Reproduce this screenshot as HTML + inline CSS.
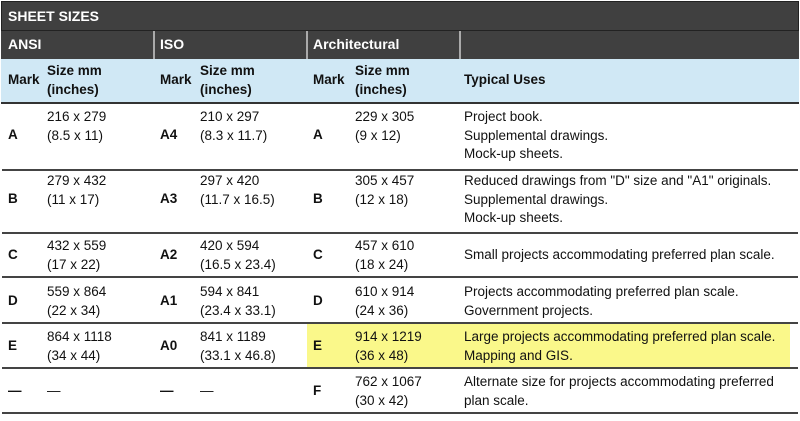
<!DOCTYPE html>
<html><head><style>
body{margin:0;width:800px;height:421px;background:#fff;font-family:"Liberation Sans",Arial,sans-serif;font-size:13.5px;color:#111;position:relative;overflow:hidden}
div{position:absolute}
.t{white-space:nowrap;line-height:18.5px}
.b{font-weight:bold}
.hl{background:#404040;color:#fff;font-weight:bold;font-size:14px}
.ln{left:2px;width:796px;height:2px;background:#444}
</style></head><body>
<div style="left:1px;top:1px;width:798px;height:30px;background:#404040;border:1px solid #222;box-sizing:border-box"></div>
<div class="t hl" style="left:8px;top:7px;background:none">SHEET SIZES</div>
<div style="left:1px;top:31px;width:798px;height:28px;background:#404040"></div>
<div style="left:153px;top:31px;width:2px;height:28px;background:#aaa"></div>
<div style="left:306px;top:31px;width:2px;height:28px;background:#aaa"></div>
<div style="left:459px;top:31px;width:2px;height:28px;background:#aaa"></div>
<div class="t hl" style="left:8px;top:35px;background:none">ANSI</div>
<div class="t hl" style="left:160px;top:35px;background:none">ISO</div>
<div class="t hl" style="left:313px;top:35px;background:none">Architectural</div>
<div style="left:1px;top:59px;width:798px;height:43px;background:#d0e8f5"></div>
<div style="left:1px;top:102px;width:798px;height:2px;background:#333"></div>
<div class="t b" style="left:8px;top:71px">Mark</div>
<div class="t b" style="left:47px;top:62px">Size mm<br>(inches)</div>
<div class="t b" style="left:160px;top:71px">Mark</div>
<div class="t b" style="left:200px;top:62px">Size mm<br>(inches)</div>
<div class="t b" style="left:313px;top:71px">Mark</div>
<div class="t b" style="left:355px;top:62px">Size mm<br>(inches)</div>
<div class="t b" style="left:464px;top:71px">Typical Uses</div>

<div style="left:307px;top:324px;width:483px;height:43px;background:#faf88a"></div>

<div class="ln" style="top:169px"></div>
<div class="ln" style="top:232px"></div>
<div class="ln" style="top:276px"></div>
<div class="ln" style="top:322px"></div>
<div class="ln" style="top:367px"></div>
<div class="ln" style="top:412px"></div>

<!-- A -->
<div class="t b" style="left:8px;top:126px">A</div>
<div class="t" style="left:47px;top:108px">216 x 279<br>(8.5 x 11)</div>
<div class="t b" style="left:160px;top:126px">A4</div>
<div class="t" style="left:200px;top:108px">210 x 297<br>(8.3 x 11.7)</div>
<div class="t b" style="left:313px;top:126px">A</div>
<div class="t" style="left:355px;top:108px">229 x 305<br>(9 x 12)</div>
<div class="t" style="left:464px;top:108px">Project book.<br>Supplemental drawings.<br>Mock-up sheets.</div>
<!-- B -->
<div class="t b" style="left:8px;top:190px">B</div>
<div class="t" style="left:47px;top:172px">279 x 432<br>(11 x 17)</div>
<div class="t b" style="left:160px;top:190px">A3</div>
<div class="t" style="left:200px;top:172px">297 x 420<br>(11.7 x 16.5)</div>
<div class="t b" style="left:313px;top:190px">B</div>
<div class="t" style="left:355px;top:172px">305 x 457<br>(12 x 18)</div>
<div class="t" style="left:464px;top:172px">Reduced drawings from "D" size and "A1" originals.<br>Supplemental drawings.<br>Mock-up sheets.</div>
<!-- C -->
<div class="t b" style="left:8px;top:246px">C</div>
<div class="t" style="left:47px;top:237px">432 x 559<br>(17 x 22)</div>
<div class="t b" style="left:160px;top:246px">A2</div>
<div class="t" style="left:200px;top:237px">420 x 594<br>(16.5 x 23.4)</div>
<div class="t b" style="left:313px;top:246px">C</div>
<div class="t" style="left:355px;top:237px">457 x 610<br>(18 x 24)</div>
<div class="t" style="left:464px;top:246px">Small projects accommodating preferred plan scale.</div>
<!-- D -->
<div class="t b" style="left:8px;top:292px">D</div>
<div class="t" style="left:47px;top:283px">559 x 864<br>(22 x 34)</div>
<div class="t b" style="left:160px;top:292px">A1</div>
<div class="t" style="left:200px;top:283px">594 x 841<br>(23.4 x 33.1)</div>
<div class="t b" style="left:313px;top:292px">D</div>
<div class="t" style="left:355px;top:283px">610 x 914<br>(24 x 36)</div>
<div class="t" style="left:464px;top:283px">Projects accommodating preferred plan scale.<br>Government projects.</div>
<!-- E -->
<div class="t b" style="left:8px;top:337px">E</div>
<div class="t" style="left:47px;top:328px">864 x 1118<br>(34 x 44)</div>
<div class="t b" style="left:160px;top:337px">A0</div>
<div class="t" style="left:200px;top:328px">841 x 1189<br>(33.1 x 46.8)</div>
<div class="t b" style="left:313px;top:337px">E</div>
<div class="t" style="left:355px;top:328px">914 x 1219<br>(36 x 48)</div>
<div class="t" style="left:464px;top:328px">Large projects accommodating preferred plan scale.<br>Mapping and GIS.</div>
<!-- F -->
<div class="t b" style="left:8px;top:382px">—</div>
<div class="t" style="left:47px;top:382px">—</div>
<div class="t b" style="left:160px;top:382px">—</div>
<div class="t" style="left:200px;top:382px">—</div>
<div class="t b" style="left:313px;top:382px">F</div>
<div class="t" style="left:355px;top:373px">762 x 1067<br>(30 x 42)</div>
<div class="t" style="left:464px;top:373px">Alternate size for projects accommodating preferred<br>plan scale.</div>
</body></html>
